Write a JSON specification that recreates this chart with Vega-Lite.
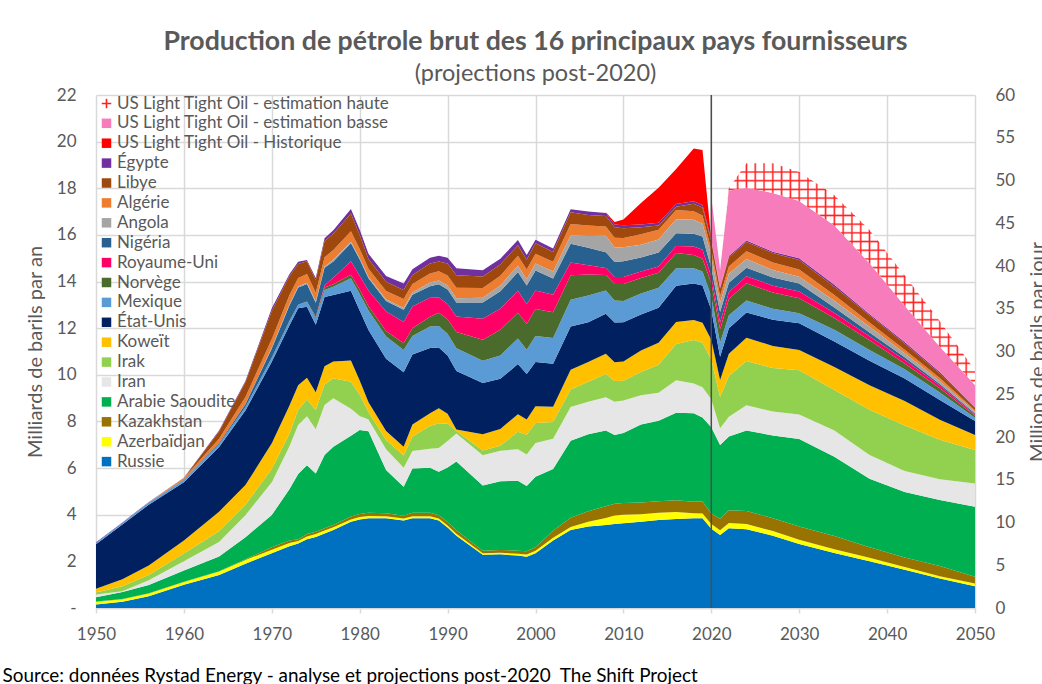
{
"$schema":"https://vega.github.io/schema/vega-lite/v6.json",
"width":879,"height":513,
"autosize":{"type":"none"},
"padding":{"left":96,"top":95,"right":67,"bottom":76},
"background":"#ffffff",
"config":{"font":"Lato","view":{"stroke":null}},
"title":{"text":"Production de pétrole brut des 16 principaux pays fournisseurs","subtitle":"(projections post-2020)","frame":"group","anchor":"middle","fontSize":26.7,"fontWeight":"bold","color":"#595959","subtitleFontSize":23.5,"subtitleColor":"#595959","subtitlePadding":6,"offset":1},
"datasets":{
"series":[{"c":"RU","nom":"Russie","rang":1},{"c":"AZ","nom":"Azerbaïdjan","rang":2},{"c":"KZ","nom":"Kazakhstan","rang":3},{"c":"SA","nom":"Arabie Saoudite","rang":4},{"c":"IR","nom":"Iran","rang":5},{"c":"IQ","nom":"Irak","rang":6},{"c":"KW","nom":"Koweït","rang":7},{"c":"US","nom":"État-Unis","rang":8},{"c":"MX","nom":"Mexique","rang":9},{"c":"NO","nom":"Norvège","rang":10},{"c":"UK","nom":"Royaume-Uni","rang":11},{"c":"NG","nom":"Nigéria","rang":12},{"c":"AO","nom":"Angola","rang":13},{"c":"DZ","nom":"Algérie","rang":14},{"c":"LY","nom":"Libye","rang":15},{"c":"EG","nom":"Égypte","rang":16},{"c":"LH","nom":"US Light Tight Oil - Historique","rang":17},{"c":"LB","nom":"US Light Tight Oil - estimation basse","rang":18},{"c":"LA","nom":"US Light Tight Oil - estimation haute","rang":19}],
"prod":[
{"an":1950,"c":"RU","v":0.15},{"an":1950,"c":"AZ","v":0.12},{"an":1950,"c":"KZ","v":0.01},{"an":1950,"c":"SA","v":0.18},{"an":1950,"c":"IR","v":0.12},{"an":1950,"c":"IQ","v":0.09},{"an":1950,"c":"KW","v":0.16},{"an":1950,"c":"US","v":1.9},{"an":1950,"c":"MX","v":0.07},{"an":1950,"c":"EG","v":0.02},
{"an":1953,"c":"RU","v":0.27},{"an":1953,"c":"AZ","v":0.11},{"an":1953,"c":"KZ","v":0.01},{"an":1953,"c":"SA","v":0.3},{"an":1953,"c":"IR","v":0.03},{"an":1953,"c":"IQ","v":0.21},{"an":1953,"c":"KW","v":0.3},{"an":1953,"c":"US","v":2.35},{"an":1953,"c":"MX","v":0.07},{"an":1953,"c":"DZ","v":0},{"an":1953,"c":"EG","v":0.02},
{"an":1956,"c":"RU","v":0.5},{"an":1956,"c":"AZ","v":0.12},{"an":1956,"c":"KZ","v":0.01},{"an":1956,"c":"SA","v":0.36},{"an":1956,"c":"IR","v":0.2},{"an":1956,"c":"IQ","v":0.23},{"an":1956,"c":"KW","v":0.4},{"an":1956,"c":"US","v":2.61},{"an":1956,"c":"MX","v":0.09},{"an":1956,"c":"NG","v":0},{"an":1956,"c":"DZ","v":0.01},{"an":1956,"c":"EG","v":0.02},
{"an":1960,"c":"RU","v":1.0},{"an":1960,"c":"AZ","v":0.12},{"an":1960,"c":"KZ","v":0.01},{"an":1960,"c":"SA","v":0.48},{"an":1960,"c":"IR","v":0.4},{"an":1960,"c":"IQ","v":0.33},{"an":1960,"c":"KW","v":0.55},{"an":1960,"c":"US","v":2.5},{"an":1960,"c":"MX","v":0.1},{"an":1960,"c":"NG","v":0.01},{"an":1960,"c":"DZ","v":0.07},{"an":1960,"c":"LY","v":0},{"an":1960,"c":"EG","v":0.02},
{"an":1964,"c":"RU","v":1.42},{"an":1964,"c":"AZ","v":0.15},{"an":1964,"c":"KZ","v":0.01},{"an":1964,"c":"SA","v":0.63},{"an":1964,"c":"IR","v":0.62},{"an":1964,"c":"IQ","v":0.46},{"an":1964,"c":"KW","v":0.84},{"an":1964,"c":"US","v":2.77},{"an":1964,"c":"MX","v":0.12},{"an":1964,"c":"NG","v":0.04},{"an":1964,"c":"AO","v":0},{"an":1964,"c":"DZ","v":0.2},{"an":1964,"c":"LY","v":0.31},{"an":1964,"c":"EG","v":0.04},
{"an":1967,"c":"RU","v":1.9},{"an":1967,"c":"AZ","v":0.16},{"an":1967,"c":"KZ","v":0.03},{"an":1967,"c":"SA","v":0.94},{"an":1967,"c":"IR","v":0.95},{"an":1967,"c":"IQ","v":0.45},{"an":1967,"c":"KW","v":0.84},{"an":1967,"c":"US","v":3.2},{"an":1967,"c":"MX","v":0.15},{"an":1967,"c":"NG","v":0.12},{"an":1967,"c":"AO","v":0.01},{"an":1967,"c":"DZ","v":0.3},{"an":1967,"c":"LY","v":0.63},{"an":1967,"c":"EG","v":0.05},
{"an":1970,"c":"RU","v":2.35},{"an":1970,"c":"AZ","v":0.15},{"an":1970,"c":"KZ","v":0.1},{"an":1970,"c":"SA","v":1.39},{"an":1970,"c":"IR","v":1.4},{"an":1970,"c":"IQ","v":0.57},{"an":1970,"c":"KW","v":1.1},{"an":1970,"c":"US","v":3.5},{"an":1970,"c":"MX","v":0.18},{"an":1970,"c":"NO","v":0},{"an":1970,"c":"NG","v":0.39},{"an":1970,"c":"AO","v":0.04},{"an":1970,"c":"DZ","v":0.37},{"an":1970,"c":"LY","v":1.2},{"an":1970,"c":"EG","v":0.12},
{"an":1972,"c":"RU","v":2.65},{"an":1972,"c":"AZ","v":0.14},{"an":1972,"c":"KZ","v":0.1},{"an":1972,"c":"SA","v":2.2},{"an":1972,"c":"IR","v":1.84},{"an":1972,"c":"IQ","v":0.54},{"an":1972,"c":"KW","v":1.2},{"an":1972,"c":"US","v":3.45},{"an":1972,"c":"MX","v":0.18},{"an":1972,"c":"NO","v":0.01},{"an":1972,"c":"NG","v":0.66},{"an":1972,"c":"AO","v":0.05},{"an":1972,"c":"DZ","v":0.39},{"an":1972,"c":"LY","v":0.82},{"an":1972,"c":"EG","v":0.08},
{"an":1973,"c":"RU","v":2.77},{"an":1973,"c":"AZ","v":0.1},{"an":1973,"c":"KZ","v":0.08},{"an":1973,"c":"SA","v":2.8},{"an":1973,"c":"IR","v":2.1},{"an":1973,"c":"IQ","v":0.65},{"an":1973,"c":"KW","v":1.05},{"an":1973,"c":"US","v":3.3},{"an":1973,"c":"MX","v":0.15},{"an":1973,"c":"NO","v":0.01},{"an":1973,"c":"NG","v":0.73},{"an":1973,"c":"AO","v":0.05},{"an":1973,"c":"DZ","v":0.36},{"an":1973,"c":"LY","v":0.6},{"an":1973,"c":"EG","v":0.1},
{"an":1974,"c":"RU","v":2.95},{"an":1974,"c":"AZ","v":0.12},{"an":1974,"c":"KZ","v":0.1},{"an":1974,"c":"SA","v":2.95},{"an":1974,"c":"IR","v":2.1},{"an":1974,"c":"IQ","v":0.72},{"an":1974,"c":"KW","v":0.93},{"an":1974,"c":"US","v":3.05},{"an":1974,"c":"MX","v":0.21},{"an":1974,"c":"NO","v":0.01},{"an":1974,"c":"UK","v":0},{"an":1974,"c":"NG","v":0.75},{"an":1974,"c":"AO","v":0.06},{"an":1974,"c":"DZ","v":0.37},{"an":1974,"c":"LY","v":0.55},{"an":1974,"c":"EG","v":0.05},
{"an":1975,"c":"RU","v":3.05},{"an":1975,"c":"AZ","v":0.12},{"an":1975,"c":"KZ","v":0.1},{"an":1975,"c":"SA","v":2.5},{"an":1975,"c":"IR","v":1.9},{"an":1975,"c":"IQ","v":0.82},{"an":1975,"c":"KW","v":0.76},{"an":1975,"c":"US","v":2.9},{"an":1975,"c":"MX","v":0.26},{"an":1975,"c":"NO","v":0.07},{"an":1975,"c":"UK","v":0.01},{"an":1975,"c":"NG","v":0.6},{"an":1975,"c":"AO","v":0.06},{"an":1975,"c":"DZ","v":0.37},{"an":1975,"c":"LY","v":0.54},{"an":1975,"c":"EG","v":0.09},
{"an":1976,"c":"RU","v":3.2},{"an":1976,"c":"AZ","v":0.12},{"an":1976,"c":"KZ","v":0.1},{"an":1976,"c":"SA","v":3.14},{"an":1976,"c":"IR","v":2.15},{"an":1976,"c":"IQ","v":0.88},{"an":1976,"c":"KW","v":0.78},{"an":1976,"c":"US","v":2.97},{"an":1976,"c":"MX","v":0.3},{"an":1976,"c":"NO","v":0.1},{"an":1976,"c":"UK","v":0.09},{"an":1976,"c":"NG","v":0.76},{"an":1976,"c":"AO","v":0.06},{"an":1976,"c":"DZ","v":0.39},{"an":1976,"c":"LY","v":0.7},{"an":1976,"c":"EG","v":0.12},
{"an":1977,"c":"RU","v":3.35},{"an":1977,"c":"AZ","v":0.11},{"an":1977,"c":"KZ","v":0.1},{"an":1977,"c":"SA","v":3.36},{"an":1977,"c":"IR","v":2.07},{"an":1977,"c":"IQ","v":0.86},{"an":1977,"c":"KW","v":0.72},{"an":1977,"c":"US","v":2.85},{"an":1977,"c":"MX","v":0.36},{"an":1977,"c":"NO","v":0.1},{"an":1977,"c":"UK","v":0.28},{"an":1977,"c":"NG","v":0.7},{"an":1977,"c":"AO","v":0.07},{"an":1977,"c":"DZ","v":0.42},{"an":1977,"c":"LY","v":0.7},{"an":1977,"c":"EG","v":0.15},
{"an":1979,"c":"RU","v":3.7},{"an":1979,"c":"AZ","v":0.1},{"an":1979,"c":"KZ","v":0.12},{"an":1979,"c":"SA","v":3.47},{"an":1979,"c":"IR","v":1.16},{"an":1979,"c":"IQ","v":1.15},{"an":1979,"c":"KW","v":0.91},{"an":1979,"c":"US","v":3.0},{"an":1979,"c":"MX","v":0.53},{"an":1979,"c":"NO","v":0.15},{"an":1979,"c":"UK","v":0.58},{"an":1979,"c":"NG","v":0.78},{"an":1979,"c":"AO","v":0.06},{"an":1979,"c":"DZ","v":0.45},{"an":1979,"c":"LY","v":0.76},{"an":1979,"c":"EG","v":0.19},
{"an":1980,"c":"RU","v":3.8},{"an":1980,"c":"AZ","v":0.1},{"an":1980,"c":"KZ","v":0.13},{"an":1980,"c":"SA","v":3.6},{"an":1980,"c":"IR","v":0.6},{"an":1980,"c":"IQ","v":0.92},{"an":1980,"c":"KW","v":0.61},{"an":1980,"c":"US","v":3.0},{"an":1980,"c":"MX","v":0.71},{"an":1980,"c":"NO","v":0.19},{"an":1980,"c":"UK","v":0.59},{"an":1980,"c":"NG","v":0.7},{"an":1980,"c":"AO","v":0.05},{"an":1980,"c":"DZ","v":0.4},{"an":1980,"c":"LY","v":0.6},{"an":1980,"c":"EG","v":0.22},
{"an":1981,"c":"RU","v":3.85},{"an":1981,"c":"AZ","v":0.1},{"an":1981,"c":"KZ","v":0.13},{"an":1981,"c":"SA","v":3.5},{"an":1981,"c":"IR","v":0.5},{"an":1981,"c":"IQ","v":0.33},{"an":1981,"c":"KW","v":0.41},{"an":1981,"c":"US","v":3.1},{"an":1981,"c":"MX","v":0.84},{"an":1981,"c":"NO","v":0.18},{"an":1981,"c":"UK","v":0.67},{"an":1981,"c":"NG","v":0.53},{"an":1981,"c":"AO","v":0.05},{"an":1981,"c":"DZ","v":0.36},{"an":1981,"c":"LY","v":0.42},{"an":1981,"c":"EG","v":0.22},
{"an":1983,"c":"RU","v":3.85},{"an":1983,"c":"AZ","v":0.09},{"an":1983,"c":"KZ","v":0.12},{"an":1983,"c":"SA","v":1.86},{"an":1983,"c":"IR","v":0.89},{"an":1983,"c":"IQ","v":0.4},{"an":1983,"c":"KW","v":0.38},{"an":1983,"c":"US","v":3.1},{"an":1983,"c":"MX","v":0.95},{"an":1983,"c":"NO","v":0.24},{"an":1983,"c":"UK","v":0.84},{"an":1983,"c":"NG","v":0.45},{"an":1983,"c":"AO","v":0.07},{"an":1983,"c":"DZ","v":0.35},{"an":1983,"c":"LY","v":0.4},{"an":1983,"c":"EG","v":0.25},
{"an":1985,"c":"RU","v":3.75},{"an":1985,"c":"AZ","v":0.09},{"an":1985,"c":"KZ","v":0.12},{"an":1985,"c":"SA","v":1.24},{"an":1985,"c":"IR","v":0.82},{"an":1985,"c":"IQ","v":0.52},{"an":1985,"c":"KW","v":0.37},{"an":1985,"c":"US","v":3.2},{"an":1985,"c":"MX","v":0.95},{"an":1985,"c":"NO","v":0.29},{"an":1985,"c":"UK","v":0.92},{"an":1985,"c":"NG","v":0.52},{"an":1985,"c":"AO","v":0.08},{"an":1985,"c":"DZ","v":0.38},{"an":1985,"c":"LY","v":0.39},{"an":1985,"c":"EG","v":0.28},
{"an":1986,"c":"RU","v":3.85},{"an":1986,"c":"AZ","v":0.09},{"an":1986,"c":"KZ","v":0.14},{"an":1986,"c":"SA","v":1.9},{"an":1986,"c":"IR","v":0.75},{"an":1986,"c":"IQ","v":0.62},{"an":1986,"c":"KW","v":0.52},{"an":1986,"c":"US","v":3.0},{"an":1986,"c":"MX","v":0.8},{"an":1986,"c":"NO","v":0.33},{"an":1986,"c":"UK","v":0.93},{"an":1986,"c":"NG","v":0.5},{"an":1986,"c":"AO","v":0.1},{"an":1986,"c":"DZ","v":0.37},{"an":1986,"c":"LY","v":0.38},{"an":1986,"c":"EG","v":0.25},
{"an":1988,"c":"RU","v":3.85},{"an":1988,"c":"AZ","v":0.09},{"an":1988,"c":"KZ","v":0.14},{"an":1988,"c":"SA","v":1.93},{"an":1988,"c":"IR","v":0.82},{"an":1988,"c":"IQ","v":0.98},{"an":1988,"c":"KW","v":0.54},{"an":1988,"c":"US","v":2.8},{"an":1988,"c":"MX","v":0.92},{"an":1988,"c":"NO","v":0.42},{"an":1988,"c":"UK","v":0.81},{"an":1988,"c":"NG","v":0.5},{"an":1988,"c":"AO","v":0.16},{"an":1988,"c":"DZ","v":0.38},{"an":1988,"c":"LY","v":0.43},{"an":1988,"c":"EG","v":0.25},
{"an":1989,"c":"RU","v":3.75},{"an":1989,"c":"AZ","v":0.09},{"an":1989,"c":"KZ","v":0.14},{"an":1989,"c":"SA","v":1.86},{"an":1989,"c":"IR","v":1.02},{"an":1989,"c":"IQ","v":1.06},{"an":1989,"c":"KW","v":0.65},{"an":1989,"c":"US","v":2.6},{"an":1989,"c":"MX","v":0.92},{"an":1989,"c":"NO","v":0.57},{"an":1989,"c":"UK","v":0.66},{"an":1989,"c":"NG","v":0.56},{"an":1989,"c":"AO","v":0.16},{"an":1989,"c":"DZ","v":0.4},{"an":1989,"c":"LY","v":0.42},{"an":1989,"c":"EG","v":0.25},
{"an":1990,"c":"RU","v":3.45},{"an":1990,"c":"AZ","v":0.09},{"an":1990,"c":"KZ","v":0.15},{"an":1990,"c":"SA","v":2.34},{"an":1990,"c":"IR","v":1.13},{"an":1990,"c":"IQ","v":0.74},{"an":1990,"c":"KW","v":0.43},{"an":1990,"c":"US","v":2.5},{"an":1990,"c":"MX","v":0.93},{"an":1990,"c":"NO","v":0.62},{"an":1990,"c":"UK","v":0.66},{"an":1990,"c":"NG","v":0.62},{"an":1990,"c":"AO","v":0.17},{"an":1990,"c":"DZ","v":0.43},{"an":1990,"c":"LY","v":0.51},{"an":1990,"c":"EG","v":0.25},
{"an":1991,"c":"RU","v":3.1},{"an":1991,"c":"AZ","v":0.08},{"an":1991,"c":"KZ","v":0.15},{"an":1991,"c":"SA","v":2.95},{"an":1991,"c":"IR","v":1.2},{"an":1991,"c":"IQ","v":0.11},{"an":1991,"c":"KW","v":0.07},{"an":1991,"c":"US","v":2.5},{"an":1991,"c":"MX","v":0.98},{"an":1991,"c":"NO","v":0.7},{"an":1991,"c":"UK","v":0.66},{"an":1991,"c":"NG","v":0.6},{"an":1991,"c":"AO","v":0.18},{"an":1991,"c":"DZ","v":0.45},{"an":1991,"c":"LY","v":0.54},{"an":1991,"c":"EG","v":0.3},
{"an":1994,"c":"RU","v":2.28},{"an":1994,"c":"AZ","v":0.07},{"an":1994,"c":"KZ","v":0.1},{"an":1994,"c":"SA","v":2.8},{"an":1994,"c":"IR","v":1.3},{"an":1994,"c":"IQ","v":0.2},{"an":1994,"c":"KW","v":0.7},{"an":1994,"c":"US","v":2.2},{"an":1994,"c":"MX","v":0.95},{"an":1994,"c":"NO","v":0.9},{"an":1994,"c":"UK","v":0.9},{"an":1994,"c":"NG","v":0.7},{"an":1994,"c":"AO","v":0.2},{"an":1994,"c":"DZ","v":0.42},{"an":1994,"c":"LY","v":0.5},{"an":1994,"c":"EG","v":0.26},
{"an":1996,"c":"RU","v":2.3},{"an":1996,"c":"AZ","v":0.07},{"an":1996,"c":"KZ","v":0.12},{"an":1996,"c":"SA","v":2.95},{"an":1996,"c":"IR","v":1.3},{"an":1996,"c":"IQ","v":0.22},{"an":1996,"c":"KW","v":0.72},{"an":1996,"c":"US","v":2.15},{"an":1996,"c":"MX","v":1.0},{"an":1996,"c":"NO","v":1.1},{"an":1996,"c":"UK","v":0.9},{"an":1996,"c":"NG","v":0.75},{"an":1996,"c":"AO","v":0.25},{"an":1996,"c":"DZ","v":0.42},{"an":1996,"c":"LY","v":0.48},{"an":1996,"c":"EG","v":0.25},
{"an":1998,"c":"RU","v":2.25},{"an":1998,"c":"AZ","v":0.08},{"an":1998,"c":"KZ","v":0.13},{"an":1998,"c":"SA","v":3.0},{"an":1998,"c":"IR","v":1.35},{"an":1998,"c":"IQ","v":0.75},{"an":1998,"c":"KW","v":0.75},{"an":1998,"c":"US","v":2.15},{"an":1998,"c":"MX","v":1.1},{"an":1998,"c":"NO","v":1.1},{"an":1998,"c":"UK","v":0.95},{"an":1998,"c":"NG","v":0.8},{"an":1998,"c":"AO","v":0.27},{"an":1998,"c":"DZ","v":0.43},{"an":1998,"c":"LY","v":0.45},{"an":1998,"c":"EG","v":0.22},
{"an":1999,"c":"RU","v":2.2},{"an":1999,"c":"AZ","v":0.09},{"an":1999,"c":"KZ","v":0.14},{"an":1999,"c":"SA","v":2.8},{"an":1999,"c":"IR","v":1.35},{"an":1999,"c":"IQ","v":0.85},{"an":1999,"c":"KW","v":0.65},{"an":1999,"c":"US","v":1.95},{"an":1999,"c":"MX","v":1.05},{"an":1999,"c":"NO","v":1.1},{"an":1999,"c":"UK","v":0.85},{"an":1999,"c":"NG","v":0.8},{"an":1999,"c":"AO","v":0.27},{"an":1999,"c":"DZ","v":0.42},{"an":1999,"c":"LY","v":0.42},{"an":1999,"c":"EG","v":0.2},
{"an":2000,"c":"RU","v":2.35},{"an":2000,"c":"AZ","v":0.1},{"an":2000,"c":"KZ","v":0.15},{"an":2000,"c":"SA","v":3.03},{"an":2000,"c":"IR","v":1.45},{"an":2000,"c":"IQ","v":0.85},{"an":2000,"c":"KW","v":0.72},{"an":2000,"c":"US","v":1.9},{"an":2000,"c":"MX","v":1.12},{"an":2000,"c":"NO","v":1.15},{"an":2000,"c":"UK","v":0.8},{"an":2000,"c":"NG","v":0.85},{"an":2000,"c":"AO","v":0.3},{"an":2000,"c":"DZ","v":0.42},{"an":2000,"c":"LY","v":0.45},{"an":2000,"c":"EG","v":0.15},
{"an":2002,"c":"RU","v":2.9},{"an":2002,"c":"AZ","v":0.11},{"an":2002,"c":"KZ","v":0.3},{"an":2002,"c":"SA","v":2.65},{"an":2002,"c":"IR","v":1.3},{"an":2002,"c":"IQ","v":0.72},{"an":2002,"c":"KW","v":0.65},{"an":2002,"c":"US","v":1.85},{"an":2002,"c":"MX","v":1.1},{"an":2002,"c":"NO","v":1.1},{"an":2002,"c":"UK","v":0.75},{"an":2002,"c":"NG","v":0.7},{"an":2002,"c":"AO","v":0.3},{"an":2002,"c":"DZ","v":0.42},{"an":2002,"c":"LY","v":0.42},{"an":2002,"c":"EG","v":0.15},
{"an":2004,"c":"RU","v":3.35},{"an":2004,"c":"AZ","v":0.12},{"an":2004,"c":"KZ","v":0.4},{"an":2004,"c":"SA","v":3.3},{"an":2004,"c":"IR","v":1.45},{"an":2004,"c":"IQ","v":0.75},{"an":2004,"c":"KW","v":0.85},{"an":2004,"c":"US","v":1.85},{"an":2004,"c":"MX","v":1.15},{"an":2004,"c":"NO","v":1.05},{"an":2004,"c":"UK","v":0.55},{"an":2004,"c":"NG","v":0.8},{"an":2004,"c":"AO","v":0.35},{"an":2004,"c":"DZ","v":0.5},{"an":2004,"c":"LY","v":0.5},{"an":2004,"c":"EG","v":0.13},
{"an":2006,"c":"RU","v":3.5},{"an":2006,"c":"AZ","v":0.2},{"an":2006,"c":"KZ","v":0.45},{"an":2006,"c":"SA","v":3.3},{"an":2006,"c":"IR","v":1.4},{"an":2006,"c":"IQ","v":0.85},{"an":2006,"c":"KW","v":0.85},{"an":2006,"c":"US","v":1.7},{"an":2006,"c":"MX","v":1.15},{"an":2006,"c":"NO","v":0.9},{"an":2006,"c":"UK","v":0.4},{"an":2006,"c":"NG","v":0.75},{"an":2006,"c":"AO","v":0.5},{"an":2006,"c":"DZ","v":0.45},{"an":2006,"c":"LY","v":0.45},{"an":2006,"c":"EG","v":0.15},
{"an":2008,"c":"RU","v":3.56},{"an":2008,"c":"AZ","v":0.3},{"an":2008,"c":"KZ","v":0.5},{"an":2008,"c":"SA","v":3.25},{"an":2008,"c":"IR","v":1.43},{"an":2008,"c":"IQ","v":1.0},{"an":2008,"c":"KW","v":0.86},{"an":2008,"c":"US","v":1.72},{"an":2008,"c":"MX","v":1.0},{"an":2008,"c":"NO","v":0.66},{"an":2008,"c":"UK","v":0.3},{"an":2008,"c":"NG","v":0.68},{"an":2008,"c":"AO","v":0.7},{"an":2008,"c":"DZ","v":0.4},{"an":2008,"c":"LY","v":0.45},{"an":2008,"c":"EG","v":0.13},{"an":2008,"c":"LH","v":0.03},
{"an":2009,"c":"RU","v":3.6},{"an":2009,"c":"AZ","v":0.37},{"an":2009,"c":"KZ","v":0.5},{"an":2009,"c":"SA","v":2.95},{"an":2009,"c":"IR","v":1.42},{"an":2009,"c":"IQ","v":0.9},{"an":2009,"c":"KW","v":0.8},{"an":2009,"c":"US","v":1.7},{"an":2009,"c":"MX","v":0.95},{"an":2009,"c":"NO","v":0.7},{"an":2009,"c":"UK","v":0.3},{"an":2009,"c":"NG","v":0.65},{"an":2009,"c":"AO","v":0.62},{"an":2009,"c":"DZ","v":0.42},{"an":2009,"c":"LY","v":0.45},{"an":2009,"c":"EG","v":0.12},{"an":2009,"c":"LH","v":0.1},
{"an":2010,"c":"RU","v":3.63},{"an":2010,"c":"AZ","v":0.37},{"an":2010,"c":"KZ","v":0.5},{"an":2010,"c":"SA","v":3.0},{"an":2010,"c":"IR","v":1.4},{"an":2010,"c":"IQ","v":0.85},{"an":2010,"c":"KW","v":0.82},{"an":2010,"c":"US","v":1.68},{"an":2010,"c":"MX","v":0.92},{"an":2010,"c":"NO","v":0.72},{"an":2010,"c":"UK","v":0.3},{"an":2010,"c":"NG","v":0.68},{"an":2010,"c":"AO","v":0.6},{"an":2010,"c":"DZ","v":0.4},{"an":2010,"c":"LY","v":0.42},{"an":2010,"c":"EG","v":0.12},{"an":2010,"c":"LH","v":0.25},
{"an":2012,"c":"RU","v":3.7},{"an":2012,"c":"AZ","v":0.32},{"an":2012,"c":"KZ","v":0.5},{"an":2012,"c":"SA","v":3.35},{"an":2012,"c":"IR","v":1.25},{"an":2012,"c":"IQ","v":1.0},{"an":2012,"c":"KW","v":0.92},{"an":2012,"c":"US","v":1.55},{"an":2012,"c":"MX","v":0.9},{"an":2012,"c":"NO","v":0.66},{"an":2012,"c":"UK","v":0.28},{"an":2012,"c":"NG","v":0.6},{"an":2012,"c":"AO","v":0.55},{"an":2012,"c":"DZ","v":0.45},{"an":2012,"c":"LY","v":0.3},{"an":2012,"c":"EG","v":0.12},{"an":2012,"c":"LH","v":0.92},
{"an":2014,"c":"RU","v":3.77},{"an":2014,"c":"AZ","v":0.31},{"an":2014,"c":"KZ","v":0.5},{"an":2014,"c":"SA","v":3.45},{"an":2014,"c":"IR","v":1.2},{"an":2014,"c":"IQ","v":1.2},{"an":2014,"c":"KW","v":0.95},{"an":2014,"c":"US","v":1.5},{"an":2014,"c":"MX","v":0.85},{"an":2014,"c":"NO","v":0.65},{"an":2014,"c":"UK","v":0.27},{"an":2014,"c":"NG","v":0.6},{"an":2014,"c":"AO","v":0.55},{"an":2014,"c":"DZ","v":0.42},{"an":2014,"c":"LY","v":0.18},{"an":2014,"c":"EG","v":0.12},{"an":2014,"c":"LH","v":1.5},
{"an":2016,"c":"RU","v":3.82},{"an":2016,"c":"AZ","v":0.3},{"an":2016,"c":"KZ","v":0.5},{"an":2016,"c":"SA","v":3.75},{"an":2016,"c":"IR","v":1.4},{"an":2016,"c":"IQ","v":1.55},{"an":2016,"c":"KW","v":0.95},{"an":2016,"c":"US","v":1.55},{"an":2016,"c":"MX","v":0.75},{"an":2016,"c":"NO","v":0.65},{"an":2016,"c":"UK","v":0.3},{"an":2016,"c":"NG","v":0.55},{"an":2016,"c":"AO","v":0.6},{"an":2016,"c":"DZ","v":0.4},{"an":2016,"c":"LY","v":0.14},{"an":2016,"c":"EG","v":0.12},{"an":2016,"c":"LH","v":1.5},
{"an":2018,"c":"RU","v":3.85},{"an":2018,"c":"AZ","v":0.21},{"an":2018,"c":"KZ","v":0.5},{"an":2018,"c":"SA","v":3.79},{"an":2018,"c":"IR","v":1.28},{"an":2018,"c":"IQ","v":1.86},{"an":2018,"c":"KW","v":0.86},{"an":2018,"c":"US","v":1.57},{"an":2018,"c":"MX","v":0.65},{"an":2018,"c":"NO","v":0.57},{"an":2018,"c":"UK","v":0.36},{"an":2018,"c":"NG","v":0.55},{"an":2018,"c":"AO","v":0.6},{"an":2018,"c":"DZ","v":0.36},{"an":2018,"c":"LY","v":0.33},{"an":2018,"c":"EG","v":0.1},{"an":2018,"c":"LH","v":2.27},
{"an":2019,"c":"RU","v":3.85},{"an":2019,"c":"AZ","v":0.2},{"an":2019,"c":"KZ","v":0.52},{"an":2019,"c":"SA","v":3.6},{"an":2019,"c":"IR","v":1.3},{"an":2019,"c":"IQ","v":1.9},{"an":2019,"c":"KW","v":0.86},{"an":2019,"c":"US","v":1.6},{"an":2019,"c":"MX","v":0.6},{"an":2019,"c":"NO","v":0.55},{"an":2019,"c":"UK","v":0.38},{"an":2019,"c":"NG","v":0.57},{"an":2019,"c":"AO","v":0.55},{"an":2019,"c":"DZ","v":0.35},{"an":2019,"c":"LY","v":0.35},{"an":2019,"c":"EG","v":0.1},{"an":2019,"c":"LH","v":2.36},
{"an":2020,"c":"RU","v":3.4},{"an":2020,"c":"AZ","v":0.2},{"an":2020,"c":"KZ","v":0.45},{"an":2020,"c":"SA","v":3.7},{"an":2020,"c":"IR","v":1.2},{"an":2020,"c":"IQ","v":1.7},{"an":2020,"c":"KW","v":0.85},{"an":2020,"c":"US","v":1.29},{"an":2020,"c":"MX","v":0.57},{"an":2020,"c":"NO","v":0.57},{"an":2020,"c":"UK","v":0.29},{"an":2020,"c":"NG","v":0.36},{"an":2020,"c":"AO","v":0.5},{"an":2020,"c":"DZ","v":0.28},{"an":2020,"c":"LY","v":0.36},{"an":2020,"c":"EG","v":0.07},{"an":2020,"c":"LH","v":0},{"an":2020,"c":"LB","v":1.85},
{"an":2021,"c":"RU","v":3.13},{"an":2021,"c":"AZ","v":0.2},{"an":2021,"c":"KZ","v":0.5},{"an":2021,"c":"SA","v":3.16},{"an":2021,"c":"IR","v":0.72},{"an":2021,"c":"IQ","v":1.35},{"an":2021,"c":"KW","v":0.72},{"an":2021,"c":"US","v":1.0},{"an":2021,"c":"MX","v":0.6},{"an":2021,"c":"NO","v":0.57},{"an":2021,"c":"UK","v":0.29},{"an":2021,"c":"NG","v":0.45},{"an":2021,"c":"AO","v":0.4},{"an":2021,"c":"DZ","v":0.3},{"an":2021,"c":"LY","v":0.3},{"an":2021,"c":"EG","v":0.05},{"an":2021,"c":"LB","v":0.76},{"an":2021,"c":"LA","v":0},
{"an":2022,"c":"RU","v":3.42},{"an":2022,"c":"AZ","v":0.22},{"an":2022,"c":"KZ","v":0.55},{"an":2022,"c":"SA","v":3.16},{"an":2022,"c":"IR","v":0.85},{"an":2022,"c":"IQ","v":1.75},{"an":2022,"c":"KW","v":0.95},{"an":2022,"c":"US","v":1.1},{"an":2022,"c":"MX","v":0.55},{"an":2022,"c":"NO","v":0.7},{"an":2022,"c":"UK","v":0.3},{"an":2022,"c":"NG","v":0.4},{"an":2022,"c":"AO","v":0.38},{"an":2022,"c":"DZ","v":0.32},{"an":2022,"c":"LY","v":0.38},{"an":2022,"c":"EG","v":0.07},{"an":2022,"c":"LB","v":2.8},{"an":2022,"c":"LA","v":0.1},
{"an":2024,"c":"RU","v":3.38},{"an":2024,"c":"AZ","v":0.22},{"an":2024,"c":"KZ","v":0.56},{"an":2024,"c":"SA","v":3.45},{"an":2024,"c":"IR","v":1.08},{"an":2024,"c":"IQ","v":1.9},{"an":2024,"c":"KW","v":1.0},{"an":2024,"c":"US","v":1.08},{"an":2024,"c":"MX","v":0.52},{"an":2024,"c":"NO","v":0.74},{"an":2024,"c":"UK","v":0.3},{"an":2024,"c":"NG","v":0.36},{"an":2024,"c":"AO","v":0.38},{"an":2024,"c":"DZ","v":0.33},{"an":2024,"c":"LY","v":0.4},{"an":2024,"c":"EG","v":0.06},{"an":2024,"c":"LB","v":2.26},{"an":2024,"c":"LA","v":1.05},
{"an":2027,"c":"RU","v":3.1},{"an":2027,"c":"AZ","v":0.2},{"an":2027,"c":"KZ","v":0.55},{"an":2027,"c":"SA","v":3.55},{"an":2027,"c":"IR","v":1.03},{"an":2027,"c":"IQ","v":1.86},{"an":2027,"c":"KW","v":0.95},{"an":2027,"c":"US","v":1.12},{"an":2027,"c":"MX","v":0.47},{"an":2027,"c":"NO","v":0.7},{"an":2027,"c":"UK","v":0.29},{"an":2027,"c":"NG","v":0.35},{"an":2027,"c":"AO","v":0.33},{"an":2027,"c":"DZ","v":0.32},{"an":2027,"c":"LY","v":0.4},{"an":2027,"c":"EG","v":0.06},{"an":2027,"c":"LB","v":2.52},{"an":2027,"c":"LA","v":1.27},
{"an":2030,"c":"RU","v":2.75},{"an":2030,"c":"AZ","v":0.18},{"an":2030,"c":"KZ","v":0.56},{"an":2030,"c":"SA","v":3.76},{"an":2030,"c":"IR","v":1.05},{"an":2030,"c":"IQ","v":1.9},{"an":2030,"c":"KW","v":0.86},{"an":2030,"c":"US","v":1.15},{"an":2030,"c":"MX","v":0.43},{"an":2030,"c":"NO","v":0.64},{"an":2030,"c":"UK","v":0.29},{"an":2030,"c":"NG","v":0.35},{"an":2030,"c":"AO","v":0.29},{"an":2030,"c":"DZ","v":0.31},{"an":2030,"c":"LY","v":0.4},{"an":2030,"c":"EG","v":0.08},{"an":2030,"c":"LB","v":2.45},{"an":2030,"c":"LA","v":1.25},
{"an":2034,"c":"RU","v":2.36},{"an":2034,"c":"AZ","v":0.16},{"an":2034,"c":"KZ","v":0.57},{"an":2034,"c":"SA","v":3.4},{"an":2034,"c":"IR","v":1.12},{"an":2034,"c":"IQ","v":1.74},{"an":2034,"c":"KW","v":0.99},{"an":2034,"c":"US","v":1.09},{"an":2034,"c":"MX","v":0.5},{"an":2034,"c":"NO","v":0.51},{"an":2034,"c":"UK","v":0.21},{"an":2034,"c":"NG","v":0.24},{"an":2034,"c":"AO","v":0.29},{"an":2034,"c":"DZ","v":0.24},{"an":2034,"c":"LY","v":0.36},{"an":2034,"c":"EG","v":0.08},{"an":2034,"c":"LB","v":2.54},{"an":2034,"c":"LA","v":1.3},
{"an":2038,"c":"RU","v":2.01},{"an":2038,"c":"AZ","v":0.14},{"an":2038,"c":"KZ","v":0.45},{"an":2038,"c":"SA","v":2.94},{"an":2038,"c":"IR","v":1.02},{"an":2038,"c":"IQ","v":1.94},{"an":2038,"c":"KW","v":1.05},{"an":2038,"c":"US","v":1.05},{"an":2038,"c":"MX","v":0.46},{"an":2038,"c":"NO","v":0.42},{"an":2038,"c":"UK","v":0.17},{"an":2038,"c":"NG","v":0.17},{"an":2038,"c":"AO","v":0.24},{"an":2038,"c":"DZ","v":0.18},{"an":2038,"c":"LY","v":0.31},{"an":2038,"c":"EG","v":0.06},{"an":2038,"c":"LB","v":2.17},{"an":2038,"c":"LA","v":1.43},
{"an":2042,"c":"RU","v":1.64},{"an":2042,"c":"AZ","v":0.12},{"an":2042,"c":"KZ","v":0.41},{"an":2042,"c":"SA","v":2.8},{"an":2042,"c":"IR","v":0.9},{"an":2042,"c":"IQ","v":1.96},{"an":2042,"c":"KW","v":1.05},{"an":2042,"c":"US","v":0.96},{"an":2042,"c":"MX","v":0.4},{"an":2042,"c":"NO","v":0.25},{"an":2042,"c":"UK","v":0.15},{"an":2042,"c":"NG","v":0.11},{"an":2042,"c":"AO","v":0.18},{"an":2042,"c":"DZ","v":0.15},{"an":2042,"c":"LY","v":0.26},{"an":2042,"c":"EG","v":0.07},{"an":2042,"c":"LB","v":1.55},{"an":2042,"c":"LA","v":1.3},
{"an":2046,"c":"RU","v":1.26},{"an":2046,"c":"AZ","v":0.1},{"an":2046,"c":"KZ","v":0.44},{"an":2046,"c":"SA","v":2.83},{"an":2046,"c":"IR","v":0.89},{"an":2046,"c":"IQ","v":1.7},{"an":2046,"c":"KW","v":0.85},{"an":2046,"c":"US","v":0.85},{"an":2046,"c":"MX","v":0.32},{"an":2046,"c":"NO","v":0.18},{"an":2046,"c":"UK","v":0.12},{"an":2046,"c":"NG","v":0.07},{"an":2046,"c":"AO","v":0.13},{"an":2046,"c":"DZ","v":0.12},{"an":2046,"c":"LY","v":0.2},{"an":2046,"c":"EG","v":0.06},{"an":2046,"c":"LB","v":1.08},{"an":2046,"c":"LA","v":1.1},
{"an":2050,"c":"RU","v":0.93},{"an":2050,"c":"AZ","v":0.12},{"an":2050,"c":"KZ","v":0.29},{"an":2050,"c":"SA","v":3.0},{"an":2050,"c":"IR","v":1.0},{"an":2050,"c":"IQ","v":1.44},{"an":2050,"c":"KW","v":0.64},{"an":2050,"c":"US","v":0.6},{"an":2050,"c":"MX","v":0.14},{"an":2050,"c":"NO","v":0.08},{"an":2050,"c":"UK","v":0.05},{"an":2050,"c":"NG","v":0.05},{"an":2050,"c":"AO","v":0.08},{"an":2050,"c":"DZ","v":0.06},{"an":2050,"c":"LY","v":0.1},{"an":2050,"c":"EG","v":0.04},{"an":2050,"c":"LB","v":0.94},{"an":2050,"c":"LA","v":0.64}
]},
"data":{"name":"prod"},
"layer":[
{"transform":[
  {"lookup":"c","from":{"data":{"name":"series"},"key":"c","fields":["nom","rang"]}},
  {"stack":"v","groupby":["an"],"sort":[{"field":"rang","order":"ascending"}],"as":["v0","v1"]}
 ],
 "encoding":{
  "x":{"field":"an","type":"quantitative","scale":{"domain":[1950,2050],"nice":false,"zero":false},
       "axis":{"values":[1950,1960,1970,1980,1990,2000,2010,2020,2030,2040,2050],"format":"d","labelFlush":false,"labelFontSize":17,"labelColor":"#595959","labelPadding":13,"tickSize":5,"tickColor":"#d9d9d9","tickWidth":1.5,"domainColor":"#d9d9d9","domainWidth":1.5,"grid":true,"gridColor":"#d9d9d9","gridWidth":1.5,
               "title":"Source: données Rystad Energy - analyse et projections post-2020\u00a0 The Shift Project","titleFontSize":18.9,"titleFontWeight":"normal","titleColor":"#000000","titleX":-94,"titleY":73,"titleAlign":"left","titleAnchor":"start","titleBaseline":"alphabetic"}},
  "y":{"field":"v1","type":"quantitative","scale":{"domain":[0,22],"nice":false,"zero":true},
       "axis":{"values":[0,2,4,6,8,10,12,14,16,18,20,22],"labelExpr":"datum.value === 0 ? '-' : datum.label","labelFlush":false,"labelFontSize":17,"labelColor":"#595959","ticks":false,"labelPadding":20,"domain":false,"grid":true,"gridColor":"#d9d9d9","gridWidth":1.5,
               "title":"Milliards de barils par an","titleFontSize":20,"titleFontWeight":"normal","titleColor":"#595959","titleX":-55,"titleY":256.5,"titleAngle":270,"titleAlign":"center","titleBaseline":"alphabetic"}},
  "y2":{"field":"v0"}
 },
 "layer":[
  {"transform":[{"filter":"datum.c !== 'LA'"}],
   "mark":{"type":"area","opacity":1,"interpolate":"linear"},
   "encoding":{"color":{"field":"nom","type":"nominal",
     "scale":{"domain":["US Light Tight Oil - estimation basse","US Light Tight Oil - Historique","Égypte","Libye","Algérie","Angola","Nigéria","Royaume-Uni","Norvège","Mexique","État-Unis","Koweït","Irak","Iran","Arabie Saoudite","Kazakhstan","Azerbaïdjan","Russie"],
              "range":["#f77cbb","#ff0000","#7030a0","#9e480e","#ed7d31","#a5a5a5","#28618f","#ff0066","#4a6b2c","#5b9bd5","#002060","#ffc000","#92d050","#e7e6e6","#00b050","#997300","#ffff00","#0070c0"]},
     "legend":{"orient":"none","legendX":2,"legendY":19.8,"direction":"vertical","title":null,"padding":0,"symbolType":"square","symbolSize":90,"symbolStrokeWidth":0,"labelFontSize":17,"labelColor":"#595959","labelOffset":2,"rowPadding":1.9,"labelLimit":400}}}},
  {"transform":[{"filter":"datum.c === 'LA'"}],
   "mark":{"type":"point","opacity":0,"color":"#ff2020","strokeWidth":1.6,"filled":false},
   "encoding":{"shape":{"field":"nom","type":"nominal",
     "scale":{"domain":["US Light Tight Oil - estimation haute"],"range":["M-1,0H1M0,-1V1"]},
     "legend":{"orient":"none","legendX":2,"legendY":0,"direction":"vertical","title":null,"padding":0,"symbolSize":90,"symbolStrokeColor":"#ff2020","symbolStrokeWidth":1.6,"symbolFillColor":"transparent","symbolOpacity":1,"labelFontSize":17,"labelColor":"#595959","labelOffset":2,"labelLimit":400}}}},
  {"transform":[{"filter":"datum.c === 'LA'"}],
   "mark":{"type":"area","fill":{"gradient":"linear","x1":0,"y1":0,"x2":1,"y2":0,"stops":[
{"offset":0.0285,"color":"#ffffff"},{"offset":0.0345,"color":"#ff2020"},{"offset":0.0405,"color":"#ffffff"},
{"offset":0.0630,"color":"#ffffff"},{"offset":0.0690,"color":"#ff2020"},{"offset":0.0750,"color":"#ffffff"},
{"offset":0.0974,"color":"#ffffff"},{"offset":0.1034,"color":"#ff2020"},{"offset":0.1094,"color":"#ffffff"},
{"offset":0.1319,"color":"#ffffff"},{"offset":0.1379,"color":"#ff2020"},{"offset":0.1439,"color":"#ffffff"},
{"offset":0.1664,"color":"#ffffff"},{"offset":0.1724,"color":"#ff2020"},{"offset":0.1784,"color":"#ffffff"},
{"offset":0.2009,"color":"#ffffff"},{"offset":0.2069,"color":"#ff2020"},{"offset":0.2129,"color":"#ffffff"},
{"offset":0.2354,"color":"#ffffff"},{"offset":0.2414,"color":"#ff2020"},{"offset":0.2474,"color":"#ffffff"},
{"offset":0.2699,"color":"#ffffff"},{"offset":0.2759,"color":"#ff2020"},{"offset":0.2819,"color":"#ffffff"},
{"offset":0.3043,"color":"#ffffff"},{"offset":0.3103,"color":"#ff2020"},{"offset":0.3163,"color":"#ffffff"},
{"offset":0.3388,"color":"#ffffff"},{"offset":0.3448,"color":"#ff2020"},{"offset":0.3508,"color":"#ffffff"},
{"offset":0.3733,"color":"#ffffff"},{"offset":0.3793,"color":"#ff2020"},{"offset":0.3853,"color":"#ffffff"},
{"offset":0.4078,"color":"#ffffff"},{"offset":0.4138,"color":"#ff2020"},{"offset":0.4198,"color":"#ffffff"},
{"offset":0.4423,"color":"#ffffff"},{"offset":0.4483,"color":"#ff2020"},{"offset":0.4543,"color":"#ffffff"},
{"offset":0.4768,"color":"#ffffff"},{"offset":0.4828,"color":"#ff2020"},{"offset":0.4888,"color":"#ffffff"},
{"offset":0.5112,"color":"#ffffff"},{"offset":0.5172,"color":"#ff2020"},{"offset":0.5232,"color":"#ffffff"},
{"offset":0.5457,"color":"#ffffff"},{"offset":0.5517,"color":"#ff2020"},{"offset":0.5577,"color":"#ffffff"},
{"offset":0.5802,"color":"#ffffff"},{"offset":0.5862,"color":"#ff2020"},{"offset":0.5922,"color":"#ffffff"},
{"offset":0.6147,"color":"#ffffff"},{"offset":0.6207,"color":"#ff2020"},{"offset":0.6267,"color":"#ffffff"},
{"offset":0.6492,"color":"#ffffff"},{"offset":0.6552,"color":"#ff2020"},{"offset":0.6612,"color":"#ffffff"},
{"offset":0.6837,"color":"#ffffff"},{"offset":0.6897,"color":"#ff2020"},{"offset":0.6957,"color":"#ffffff"},
{"offset":0.7181,"color":"#ffffff"},{"offset":0.7241,"color":"#ff2020"},{"offset":0.7301,"color":"#ffffff"},
{"offset":0.7526,"color":"#ffffff"},{"offset":0.7586,"color":"#ff2020"},{"offset":0.7646,"color":"#ffffff"},
{"offset":0.7871,"color":"#ffffff"},{"offset":0.7931,"color":"#ff2020"},{"offset":0.7991,"color":"#ffffff"},
{"offset":0.8216,"color":"#ffffff"},{"offset":0.8276,"color":"#ff2020"},{"offset":0.8336,"color":"#ffffff"},
{"offset":0.8561,"color":"#ffffff"},{"offset":0.8621,"color":"#ff2020"},{"offset":0.8681,"color":"#ffffff"},
{"offset":0.8906,"color":"#ffffff"},{"offset":0.8966,"color":"#ff2020"},{"offset":0.9026,"color":"#ffffff"},
{"offset":0.9250,"color":"#ffffff"},{"offset":0.9310,"color":"#ff2020"},{"offset":0.9370,"color":"#ffffff"},
{"offset":0.9595,"color":"#ffffff"},{"offset":0.9655,"color":"#ff2020"},{"offset":0.9715,"color":"#ffffff"}
]}}},
  {"transform":[{"filter":"datum.c === 'LA'"}],
   "mark":{"type":"area","fill":{"gradient":"linear","x1":0,"y1":0,"x2":0,"y2":1,"stops":[
{"offset":0.0324,"color":"rgba(255,32,32,0)"},{"offset":0.0392,"color":"#ff2020"},{"offset":0.0460,"color":"rgba(255,32,32,0)"},
{"offset":0.0716,"color":"rgba(255,32,32,0)"},{"offset":0.0784,"color":"#ff2020"},{"offset":0.0852,"color":"rgba(255,32,32,0)"},
{"offset":0.1108,"color":"rgba(255,32,32,0)"},{"offset":0.1176,"color":"#ff2020"},{"offset":0.1244,"color":"rgba(255,32,32,0)"},
{"offset":0.1500,"color":"rgba(255,32,32,0)"},{"offset":0.1568,"color":"#ff2020"},{"offset":0.1636,"color":"rgba(255,32,32,0)"},
{"offset":0.1892,"color":"rgba(255,32,32,0)"},{"offset":0.1960,"color":"#ff2020"},{"offset":0.2028,"color":"rgba(255,32,32,0)"},
{"offset":0.2284,"color":"rgba(255,32,32,0)"},{"offset":0.2352,"color":"#ff2020"},{"offset":0.2420,"color":"rgba(255,32,32,0)"},
{"offset":0.2676,"color":"rgba(255,32,32,0)"},{"offset":0.2744,"color":"#ff2020"},{"offset":0.2812,"color":"rgba(255,32,32,0)"},
{"offset":0.3068,"color":"rgba(255,32,32,0)"},{"offset":0.3136,"color":"#ff2020"},{"offset":0.3204,"color":"rgba(255,32,32,0)"},
{"offset":0.3460,"color":"rgba(255,32,32,0)"},{"offset":0.3528,"color":"#ff2020"},{"offset":0.3596,"color":"rgba(255,32,32,0)"},
{"offset":0.3852,"color":"rgba(255,32,32,0)"},{"offset":0.3920,"color":"#ff2020"},{"offset":0.3988,"color":"rgba(255,32,32,0)"},
{"offset":0.4244,"color":"rgba(255,32,32,0)"},{"offset":0.4312,"color":"#ff2020"},{"offset":0.4380,"color":"rgba(255,32,32,0)"},
{"offset":0.4636,"color":"rgba(255,32,32,0)"},{"offset":0.4704,"color":"#ff2020"},{"offset":0.4772,"color":"rgba(255,32,32,0)"},
{"offset":0.5028,"color":"rgba(255,32,32,0)"},{"offset":0.5096,"color":"#ff2020"},{"offset":0.5164,"color":"rgba(255,32,32,0)"},
{"offset":0.5420,"color":"rgba(255,32,32,0)"},{"offset":0.5488,"color":"#ff2020"},{"offset":0.5556,"color":"rgba(255,32,32,0)"},
{"offset":0.5812,"color":"rgba(255,32,32,0)"},{"offset":0.5880,"color":"#ff2020"},{"offset":0.5948,"color":"rgba(255,32,32,0)"},
{"offset":0.6204,"color":"rgba(255,32,32,0)"},{"offset":0.6272,"color":"#ff2020"},{"offset":0.6340,"color":"rgba(255,32,32,0)"},
{"offset":0.6596,"color":"rgba(255,32,32,0)"},{"offset":0.6664,"color":"#ff2020"},{"offset":0.6732,"color":"rgba(255,32,32,0)"},
{"offset":0.6988,"color":"rgba(255,32,32,0)"},{"offset":0.7056,"color":"#ff2020"},{"offset":0.7124,"color":"rgba(255,32,32,0)"},
{"offset":0.7380,"color":"rgba(255,32,32,0)"},{"offset":0.7448,"color":"#ff2020"},{"offset":0.7516,"color":"rgba(255,32,32,0)"},
{"offset":0.7772,"color":"rgba(255,32,32,0)"},{"offset":0.7840,"color":"#ff2020"},{"offset":0.7908,"color":"rgba(255,32,32,0)"},
{"offset":0.8164,"color":"rgba(255,32,32,0)"},{"offset":0.8232,"color":"#ff2020"},{"offset":0.8300,"color":"rgba(255,32,32,0)"},
{"offset":0.8556,"color":"rgba(255,32,32,0)"},{"offset":0.8624,"color":"#ff2020"},{"offset":0.8692,"color":"rgba(255,32,32,0)"},
{"offset":0.8948,"color":"rgba(255,32,32,0)"},{"offset":0.9016,"color":"#ff2020"},{"offset":0.9084,"color":"rgba(255,32,32,0)"},
{"offset":0.9340,"color":"rgba(255,32,32,0)"},{"offset":0.9408,"color":"#ff2020"},{"offset":0.9476,"color":"rgba(255,32,32,0)"},
{"offset":0.9732,"color":"rgba(255,32,32,0)"},{"offset":0.9800,"color":"#ff2020"},{"offset":0.9868,"color":"rgba(255,32,32,0)"}
]}}},
  {"transform":[{"filter":"datum.c === 'RU' && datum.an === 2020"}],
   "mark":{"type":"rule","color":"#4d4d4d","strokeWidth":1.5},
   "encoding":{"y":{"datum":22},"y2":{"datum":0}}}
 ]},
{"data":{"values":[{"d":0}]},
 "mark":{"type":"rule","opacity":0},
 "encoding":{"y":{"field":"d","type":"quantitative","scale":{"domain":[0,60],"nice":false},
   "axis":{"orient":"right","values":[0,5,10,15,20,25,30,35,40,45,50,55,60],"labelFlush":false,"labelFontSize":17,"labelColor":"#595959","ticks":false,"labelPadding":20,"domain":false,"grid":false,
           "title":"Millions de barils par jour","titleFontSize":20,"titleFontWeight":"normal","titleColor":"#595959","titleX":68,"titleY":256.5,"titleAngle":270,"titleAlign":"center","titleBaseline":"alphabetic"}}}}
],
"resolve":{"scale":{"y":"independent"}}
}
